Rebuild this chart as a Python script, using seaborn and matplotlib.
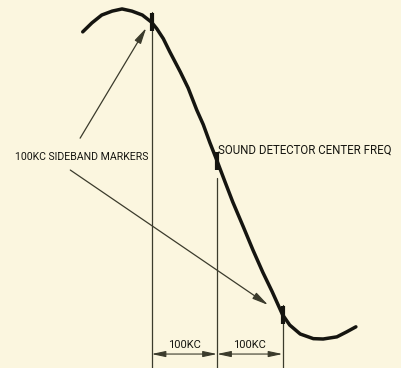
import matplotlib
matplotlib.use("Agg")
import matplotlib.pyplot as plt
import seaborn as sns
import pandas as pd

# Passband response around the sound carrier: offset in kc vs. relative response
freq_kc = [-205, -191, -176, -160, -145, -130, -114, -100, -92, -82, -72, -56, -44,
           -31, -21, -11, 0, 12, 24, 40, 55, 70, 84, 100, 111, 127, 147, 162, 183,
           198, 212]
response = [93.9, 96.4, 98.6, 99.7, 100.3, 99.7, 98.6, 96.6, 94.8, 92.0, 88.3, 82.7,
            78.2, 72.1, 68.0, 63.0, 57.9, 52.1, 46.4, 39.5, 32.9, 26.7, 21.4, 14.9,
            12.0, 9.5, 8.2, 8.1, 8.7, 10.1, 11.5]

# Marker frequencies (kc) and the heights where their vertical lines start
marker_kc = [-100, 0, 100]
marker_top = [99.4, 53.1, 17.6]
spacing_labels = ["100KC", "100KC"]

label_sideband = "100KC SIDEBAND MARKERS"
label_center = "SOUND DETECTOR CENTER FREQ"

paper = "#FBF6DF"
ink = "#151510"
thin_ink = "#3b3b2c"

sns.set_theme(style="white")
plt.rcParams["font.family"] = ["Roboto", "DejaVu Sans"]

fig = plt.figure(figsize=(4.02, 3.68), dpi=100, facecolor=paper)
ax = fig.add_axes([0, 0, 1, 1])
ax.set_facecolor(paper)

df = pd.DataFrame({"kc": freq_kc, "resp": response})
sns.lineplot(data=df, x="kc", y="resp", ax=ax, color=ink, linewidth=2.5,
             sort=False, estimator=None)

# Vertical marker lines
for x, top in zip(marker_kc, marker_top):
    ax.plot([x, x], [0, top], color=thin_ink, linewidth=0.9)

# Marker pips on the curve
for x in marker_kc:
    r = response[freq_kc.index(x)]
    ax.plot([x, x], [r - 2.5, r + 2.5], color=ink, linewidth=3.0,
            solid_capstyle="butt")

# Dimension arrows between markers
dim_y = 3.9
for (a, b), lab in zip(zip(marker_kc[:-1], marker_kc[1:]), spacing_labels):
    ax.annotate("", xy=(b, dim_y), xytext=(a, dim_y),
                arrowprops=dict(arrowstyle="<|-|>,head_length=0.7,head_width=0.15",
                                color=thin_ink, lw=0.8, shrinkA=0, shrinkB=0))
    ax.text((a + b) / 2, dim_y + 1.0, lab, ha="center", va="bottom",
            fontsize=8, color=ink)

# Callouts
ax.text(-308, 58.9, label_sideband, ha="left", va="center", fontsize=7.6, color=ink)
ax.text(1.5, 60.9, label_center, ha="left", va="center", fontsize=8.3, color=ink)

arrow_kw = dict(arrowstyle="-|>,head_length=0.8,head_width=0.18",
                color=thin_ink, lw=0.9, shrinkA=0, shrinkB=0)
ax.annotate("", xy=(-108, 95.0), xytext=(-209, 64.2), arrowprops=arrow_kw)
ax.annotate("", xy=(78, 17.6), xytext=(-224, 55.3), arrowprops=arrow_kw)

ax.set_xlim(-331.3, 282.4)
ax.set_ylim(0, 102.8)
ax.set_axis_off()

fig.savefig("out.png", dpi=100, facecolor=paper)
